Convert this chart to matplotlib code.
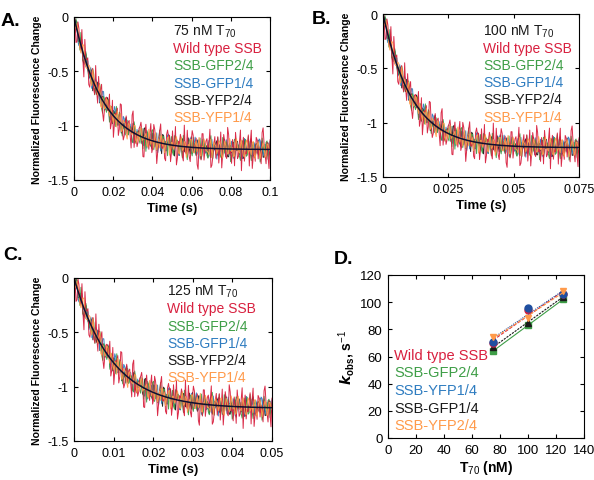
import numpy as np
import matplotlib
matplotlib.use("Agg")
import matplotlib.pyplot as plt

plt.rcParams['font.family'] = ['Liberation Sans', 'DejaVu Sans']
plt.rcParams['mathtext.fontset'] = 'custom'
plt.rcParams['mathtext.rm'] = 'Liberation Sans'
plt.rcParams['mathtext.it'] = 'Liberation Sans:italic'
plt.rcParams['mathtext.bf'] = 'Liberation Sans:bold'

# ---- Panel D data (kobs vs T70) ----
t70 = [75, 100, 125]
kobs_wt = [70, 94, 106]
kobs_gfp24 = [64, 83, 102]
kobs_yfp14 = [71, 96, 106]
kobs_gfp14 = [67, 85, 104]
kobs_yfp24 = [74, 88, 108]

# ---- Kinetic trace panels ----
conc_labels = ["75 nM T$_{70}$", "100 nM T$_{70}$", "125 nM T$_{70}$"]
t_max = [0.1, 0.075, 0.05]
plateau = [-1.22, -1.23, -1.20]
k_fit = [68, 90, 105]
xticks_panels = [[0, 0.02, 0.04, 0.06, 0.08, 0.1],
                 [0, 0.025, 0.05, 0.075],
                 [0, 0.01, 0.02, 0.03, 0.04, 0.05]]
xticklabels_panels = [["0", "0.02", "0.04", "0.06", "0.08", "0.1"],
                      ["0", "0.025", "0.05", "0.075"],
                      ["0", "0.01", "0.02", "0.03", "0.04", "0.05"]]
trace_names = ["Wild type SSB", "SSB-GFP2/4", "SSB-GFP1/4", "SSB-YFP2/4", "SSB-YFP1/4"]

# residual noise read as hundredths (per trace)
res_red = [3,-7,5,-2,8,-9,1,4,-6,2,-3,9,-5,0,6,-8,3,-1,7,-4,
           -9,2,5,-3,8,-6,1,-2,4,-7,9,-1,-5,3,6,-8,2,0,-4,7,
           -3,5,-9,1,8,-2,-6,4,3,-7,6,-1,-8,2,5,-4,9,-3,0,-6,
           7,-2,4,-9,1,6,-5,3,-1,8,-7,2,-4,5,0,-8,6,-3,9,-2,
           -6,1,7,-4,3,-9,5,-1,2,-7,8,-3,-5,4,1,-6,9,-2,3,-8]
res_green = [-2,5,1,-6,3,-4,7,-1,2,-5,6,0,-3,8,-7,4,-2,1,-8,5,
             3,-6,2,7,-4,0,-5,6,-1,3,-7,4,1,-3,5,-8,2,6,-2,-4,
             8,-1,-6,3,0,5,-7,2,4,-3,-5,7,1,-2,6,-8,3,-4,2,5,
             -6,1,4,-3,7,-5,0,2,-7,6,-1,3,-4,8,-2,-6,5,1,-3,4,
             -7,2,6,-1,-5,3,0,7,-4,2,-8,5,-2,4,1,-6,3,-3,6,-1]
res_blue = [4,-3,-6,2,7,-1,-4,5,0,-8,3,6,-2,-5,1,8,-3,2,-7,4,
            -1,6,-4,3,-2,7,-6,1,5,-3,-8,2,4,-1,6,-5,3,-7,0,5,
            2,-4,7,-2,-6,3,1,-5,8,-1,-3,4,6,-7,2,-2,5,-4,0,7,
            -5,3,-1,6,-8,2,4,-3,1,-6,7,-2,3,5,-4,-1,8,-6,2,-3,
            6,-7,1,4,-2,-5,3,7,-1,-4,5,0,-6,2,8,-3,-2,4,-5,1]
res_black = [-1,4,-5,3,2,-7,6,-2,-4,5,1,-3,7,-6,0,3,-2,8,-5,1,
             4,-3,-1,6,-7,2,5,-4,3,-1,7,-5,-2,4,1,-6,8,-3,2,-4,
             6,0,-5,3,-2,7,-6,1,4,-3,2,-8,5,-1,3,6,-4,-2,7,-5,
             1,3,-6,4,-1,-3,5,2,-7,6,-2,0,4,-5,3,-4,7,1,-6,2,
             -3,5,-1,6,-4,2,-7,3,1,-2,8,-5,4,-3,-1,6,-6,2,5,-4]
res_orange = [6,-2,3,-5,1,7,-4,-1,5,-6,2,4,-3,8,-7,1,-2,6,-4,3,
              -5,2,7,-1,-6,4,3,-8,5,-2,1,6,-3,-4,7,-1,2,-5,8,-3,
              0,4,-6,3,5,-2,-7,1,6,-4,2,-1,7,-5,3,-3,4,-8,2,6,
              -1,-4,5,3,-6,1,7,-2,-3,4,-7,5,2,-1,6,-5,0,3,-4,8,
              -2,-6,4,1,-3,7,-5,2,5,-1,-4,6,-7,3,1,-2,5,-6,4,0]

C_RED = '#d8203f'
C_GREEN = '#3e9e47'
C_BLUE = '#2e7cc0'
C_BLACK = '#1a1a1a'
C_ORANGE = '#ff9a4a'
name_colors = [C_RED, C_GREEN, C_BLUE, C_BLACK, C_ORANGE]

W, H = 594, 481
fig = plt.figure(figsize=(W / 100, H / 100), dpi=100)

def frac(l, r, t, b):
    return [l / W, (H - b) / H, (r - l) / W, (b - t) / H]

rects = [frac(74, 270, 18, 181), frac(383, 579, 15, 178), frac(74, 272, 279, 442)]
legend_pos = [(0.505, 0.915), (0.51, 0.90), (0.47, 0.92)]
panel_letters = [("A.", 1, 21), ("B.", 312, 19), ("C.", 3, 256)]

def style_axes(ax, ls=9):
    ax.tick_params(direction='in', top=True, right=True, labelsize=ls, length=3, width=0.8, pad=4)
    for s in ax.spines.values():
        s.set_linewidth(0.8)

def interleave(a, b):
    return np.column_stack([np.array(a), np.array(b[::-1])]).ravel()

for i in range(3):
    ax = fig.add_axes(rects[i])
    tm = t_max[i]
    traces = [(interleave(res_black, res_green), C_BLACK, 0.012),
              (interleave(res_blue, res_orange), C_BLUE, 0.012),
              (interleave(res_green, res_red), C_GREEN, 0.013),
              (interleave(res_red, res_blue), C_RED, 0.022),
              (interleave(res_orange, res_black), C_ORANGE, 0.012)]
    n = len(traces[0][0])
    t = np.linspace(0, tm, n)
    base = plateau[i] * (1 - np.exp(-k_fit[i] * t))
    for res, col, sc in traces:
        y = base + res * sc
        y[0] = 0.0
        ax.plot(t, y, color=col, lw=0.7, alpha=0.95)
    tf = np.linspace(0, tm, 300)
    ax.plot(tf, plateau[i] * (1 - np.exp(-k_fit[i] * tf)), color='#101030', lw=1.1)
    ax.set_xlim(0, tm)
    ax.set_ylim(-1.5, 0)
    ax.set_yticks([0, -0.5, -1, -1.5])
    ax.set_yticklabels(["0", "-0.5", "-1", "-1.5"])
    ax.set_xticks(xticks_panels[i])
    ax.set_xticklabels(xticklabels_panels[i])
    style_axes(ax)
    ax.set_xlabel("Time (s)", fontsize=9.5, fontweight='bold', labelpad=3)
    ax.set_ylabel("Normalized Fluorescence Change", fontsize=7.6, fontweight='bold', labelpad=4)
    lx, ly = legend_pos[i]
    ax.text(lx, ly, conc_labels[i], transform=ax.transAxes, fontsize=10, color=C_BLACK,
            va='center', ha='left')
    for j, nm in enumerate(trace_names):
        ax.text(lx, ly - 0.106 * (j + 1), nm, transform=ax.transAxes, fontsize=10,
                color=name_colors[j], va='center', ha='left')
    lt, px, py = panel_letters[i]
    fig.text(px / W, 1 - py / H, lt, fontsize=14, fontweight='bold', va='center', ha='left')

# ---- Panel D ----
axd = fig.add_axes(frac(388, 584, 276, 439))
series_d = [(kobs_gfp24, C_GREEN, 's', '-'), (kobs_gfp14, C_BLACK, '^', (0, (2, 1))),
            (kobs_wt, C_RED, 'o', (0, (3, 1.5))), (kobs_yfp14, '#1f4fa0', 'o', (0, (1, 1))),
            (kobs_yfp24, C_ORANGE, 'v', (0, (3, 1.5)))]
for vals, col, mk, ls in series_d:
    x = np.array(t70, dtype=float)
    p = np.polyfit(x, vals, 1)
    xx = np.array([t70[0], t70[-1]], dtype=float)
    axd.plot(xx, np.polyval(p, xx), color=col, lw=0.8, linestyle=ls)
    axd.plot(t70, vals, linestyle='none', marker=mk, color=col, markersize=5)
axd.set_xlim(0, 140)
axd.set_ylim(0, 120)
axd.set_xticks(range(0, 141, 20))
axd.set_yticks(range(0, 121, 20))
style_axes(axd, 9.5)
axd.set_xlabel("T$_{70}$ (nM)", fontsize=10, fontweight='bold', labelpad=2)
axd.set_ylabel(r"$\mathbfit{k}_{\mathbf{obs}}$, s$^{-1}$", fontsize=10, fontweight='bold', labelpad=2)
d_names = ["Wild type SSB", "SSB-GFP2/4", "SSB-YFP1/4", "SSB-GFP1/4", "SSB-YFP2/4"]
d_colors = [C_RED, C_GREEN, C_BLUE, C_BLACK, C_ORANGE]
for j, nm in enumerate(d_names):
    axd.text(0.03, 0.51 - 0.108 * j, nm, transform=axd.transAxes, fontsize=10.5,
             color=d_colors[j], va='center', ha='left')
fig.text(334 / W, 1 - 260 / H, "D.", fontsize=14, fontweight='bold', va='center', ha='left')

fig.savefig("out.png", dpi=100)
